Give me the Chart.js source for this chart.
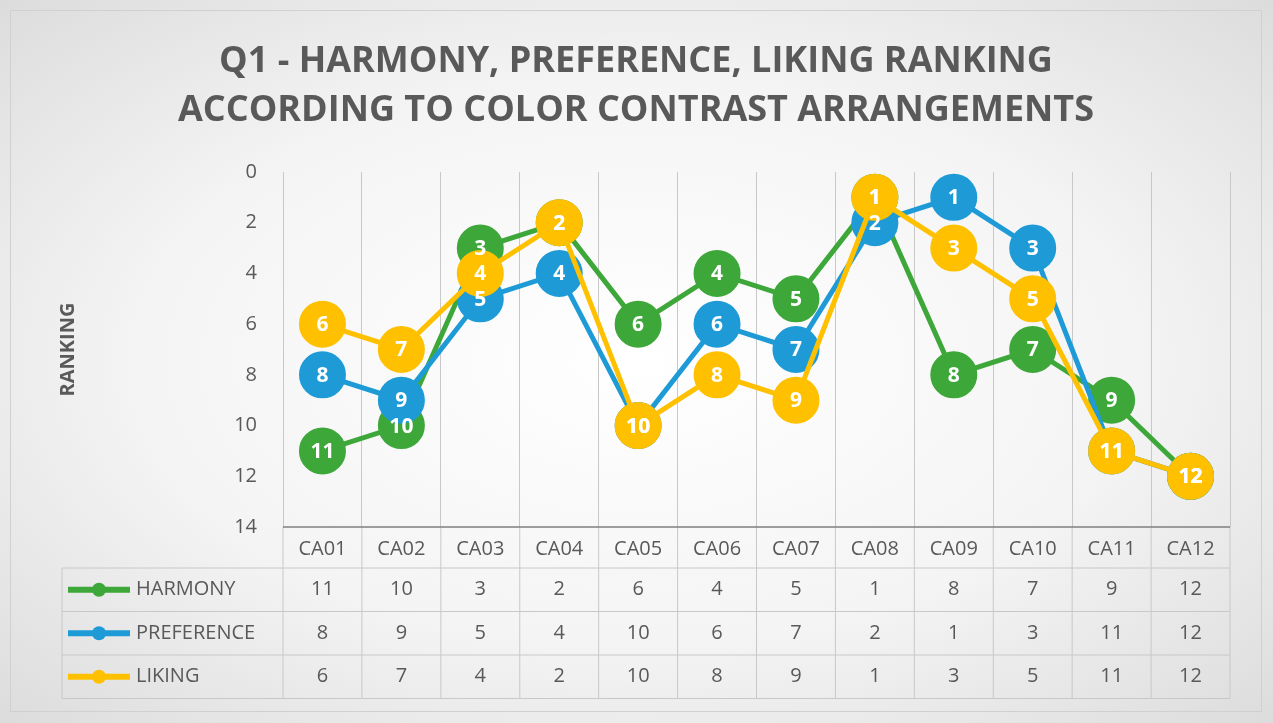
<!DOCTYPE html>
<html><head><meta charset="utf-8">
<script src="https://cdn.jsdelivr.net/npm/chart.js@4"></script>
<style>
html,body{margin:0;padding:0;background:#fff}
#wrap{position:absolute;left:0;top:0;width:1273px;height:723px;
 background:radial-gradient(ellipse at center,#ffffff 0%,#f4f4f4 55%,#dcdcdc 100%);}
#frame{position:absolute;left:10px;top:10px;width:1252px;height:702px;border:1px solid #d0d0d0;box-sizing:border-box;pointer-events:none}
</style></head>
<body>
<div id="wrap"><canvas id="c" width="1273" height="723"></canvas><div id="frame"></div></div>
<script>
const LABELS = ['CA01','CA02','CA03','CA04','CA05','CA06','CA07','CA08','CA09','CA10','CA11','CA12'];
const SERIES = [
  { name: 'HARMONY',    color: '#3DA73A', values: [11,10,3,2,6,4,5,1,8,7,9,12], order: 3 },
  { name: 'PREFERENCE', color: '#1E9BD7', values: [8,9,5,4,10,6,7,2,1,3,11,12], order: 2 },
  { name: 'LIKING',     color: '#FFC000', values: [6,7,4,2,10,8,9,1,3,5,11,12], order: 1 },
];
const FONT = "'Open Sans', 'Liberation Sans', sans-serif";
const GRID = '#c8c8c8';
const TEXT = '#595959';

// title + point labels + data table
const extras = {
  id: 'extras',
  afterDatasetsDraw(chart) {
    const ctx = chart.ctx;
    [0,1,2].forEach(i => {
      const meta = chart.getDatasetMeta(i);
      ctx.save();
      ctx.fillStyle = '#fff';
      ctx.font = "bold 21px " + FONT;
      ctx.textAlign = 'center'; ctx.textBaseline = 'middle';
      meta.data.forEach((p, j) => ctx.fillText(SERIES[i].values[j], p.x, p.y + 1));
      ctx.restore();
    });
  },
  afterDraw(chart) {
    const ctx = chart.ctx, x = chart.scales.x, area = chart.chartArea;
    ctx.save();
    ctx.fillStyle = TEXT;
    ctx.font = "bold 36px " + FONT;
    ctx.textAlign = 'center'; ctx.textBaseline = 'middle';
    ctx.fillText('Q1 - HARMONY, PREFERENCE, LIKING RANKING', 636, 62);
    ctx.fillText('ACCORDING TO COLOR CONTRAST ARRANGEMENTS', 636, 111);

    const step = (area.right - area.left) / LABELS.length;
    const top = area.bottom, hdr = top + 41, rowH = 43.5, bottom = hdr + rowH * 3, left = 62;
    ctx.strokeStyle = GRID; ctx.lineWidth = 1;
    [hdr, hdr + rowH, hdr + rowH * 2, bottom].forEach(y => {
      ctx.beginPath(); ctx.moveTo(left, y); ctx.lineTo(area.right, y); ctx.stroke();
    });
    for (let k = 0; k <= LABELS.length; k++) {
      const xx = area.left + k * step;
      ctx.beginPath(); ctx.moveTo(xx, top); ctx.lineTo(xx, bottom); ctx.stroke();
    }
    ctx.beginPath(); ctx.moveTo(left, hdr); ctx.lineTo(left, bottom); ctx.stroke();
    ctx.strokeStyle = '#7f7f7f'; ctx.lineWidth = 1.5;
    ctx.beginPath(); ctx.moveTo(area.left, top); ctx.lineTo(area.right, top); ctx.stroke();

    ctx.font = "20px " + FONT; ctx.fillStyle = TEXT;
    LABELS.forEach((l, j) => ctx.fillText(l, x.getPixelForValue(j), top + 22));
    SERIES.forEach((s, i) => {
      const cy = hdr + rowH * i + rowH / 2;
      ctx.strokeStyle = s.color; ctx.lineWidth = 6;
      ctx.beginPath(); ctx.moveTo(68, cy); ctx.lineTo(130, cy); ctx.stroke();
      ctx.fillStyle = s.color;
      ctx.beginPath(); ctx.arc(99, cy, 7, 0, Math.PI * 2); ctx.fill();
      ctx.fillStyle = TEXT; ctx.textAlign = 'left';
      ctx.fillText(s.name, 136, cy);
      ctx.textAlign = 'center';
      s.values.forEach((v, j) => ctx.fillText(v, x.getPixelForValue(j), cy));
    });
    ctx.restore();
  }
};

new Chart(document.getElementById('c'), {
  type: 'line',
  data: {
    labels: LABELS,
    datasets: SERIES.map(s => ({
      label: s.name, data: s.values, order: s.order,
      borderColor: s.color, backgroundColor: s.color,
      pointBackgroundColor: s.color, pointBorderColor: s.color,
      borderWidth: 5, pointRadius: 21, pointHoverRadius: 21, tension: 0
    }))
  },
  options: {
    responsive: false, animation: false,
    layout: { padding: { left: 52, right: 43, top: 172, bottom: 0 } },
    plugins: { legend: { display: false }, tooltip: { enabled: false } },
    scales: {
      x: {
        offset: true,
        grid: { display: true, offset: true, color: GRID, drawTicks: false, drawOnChartArea: true },
        border: { display: false },
        ticks: { display: false },
        afterFit(s) { s.height = 196; }
      },
      y: {
        reverse: true, min: 0, max: 14,
        ticks: { stepSize: 2, color: TEXT, font: { size: 20, family: FONT }, padding: 18 },
        grid: { display: false },
        border: { display: false },
        title: { display: true, text: 'RANKING', color: TEXT, font: { size: 20, weight: 'bold', family: FONT } },
        afterFit(s) { s.width = 231; }
      }
    }
  },
  plugins: [extras]
});
</script>
</body></html>
